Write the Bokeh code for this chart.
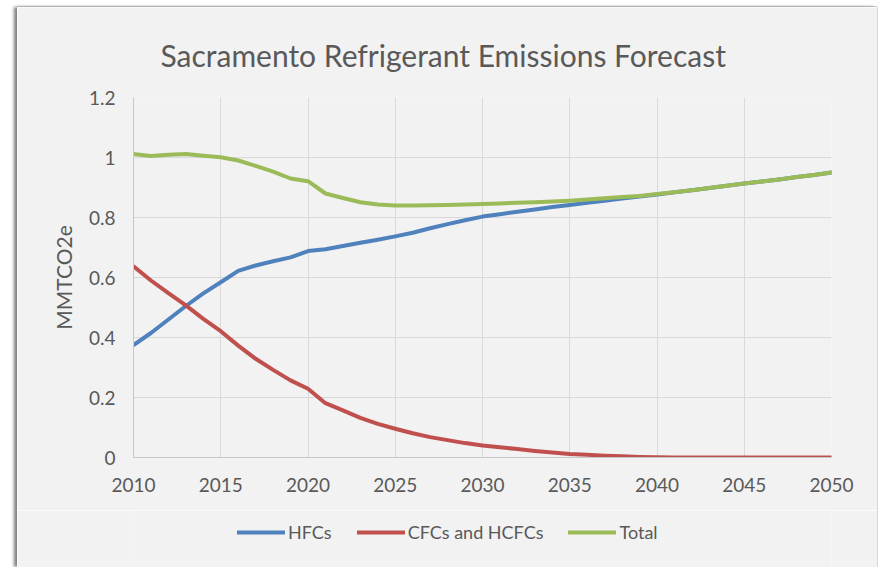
from bokeh.plotting import figure
from bokeh.models import (Legend, LegendItem, FixedTicker, CustomJSTickFormatter, Range1d, Spacer)
from bokeh.layouts import row, column
from bokeh.embed import file_html
from bokeh.resources import INLINE

# ---- data ----
years = [2010, 2011, 2012, 2013, 2014, 2015, 2016, 2017, 2018, 2019,
         2020, 2021, 2022, 2023, 2024, 2025, 2026, 2027, 2028, 2029,
         2030, 2031, 2032, 2033, 2034, 2035, 2036, 2037, 2038, 2039,
         2040, 2041, 2042, 2043, 2044, 2045, 2046, 2047, 2048, 2049, 2050]
hfcs = [0.375, 0.415, 0.460, 0.505, 0.547, 0.584, 0.622, 0.640, 0.654, 0.667,
        0.688, 0.694, 0.705, 0.716, 0.726, 0.737, 0.749, 0.764, 0.778, 0.791,
        0.803, 0.811, 0.819, 0.827, 0.835, 0.842, 0.849, 0.856, 0.863, 0.870,
        0.877, 0.884, 0.891, 0.898, 0.906, 0.913, 0.920, 0.927, 0.935, 0.942, 0.950]
cfcs = [0.637, 0.590, 0.548, 0.507, 0.462, 0.421, 0.373, 0.329, 0.292, 0.257,
        0.229, 0.181, 0.157, 0.132, 0.112, 0.096, 0.081, 0.068, 0.058, 0.048,
        0.040, 0.034, 0.028, 0.022, 0.017, 0.012, 0.009, 0.006, 0.004, 0.002,
        0.001, 0.0, 0.0, 0.0, 0.0, 0.0, 0.0, 0.0, 0.0, 0.0, 0.0]
total = [1.012, 1.005, 1.009, 1.012, 1.006, 1.001, 0.990, 0.972, 0.953, 0.930,
         0.921, 0.880, 0.865, 0.851, 0.843, 0.840, 0.840, 0.841, 0.842, 0.843,
         0.845, 0.847, 0.849, 0.851, 0.853, 0.856, 0.860, 0.864, 0.868, 0.872,
         0.878, 0.884, 0.891, 0.898, 0.906, 0.913, 0.920, 0.927, 0.935, 0.942, 0.950]
x_ticks = [2010, 2015, 2020, 2025, 2030, 2035, 2040, 2045, 2050]
y_ticks = [0, 0.2, 0.4, 0.6, 0.8, 1.0, 1.2]
series_names = ["HFCs", "CFCs and HCFCs", "Total"]
title_text = "Sacramento Refrigerant Emissions Forecast"
y_label = "MMTCO2e"

FONT = "Lato"
TXT = "#595959"
BG = "#f2f2f2"
GRID = "#d9d9d9"
colors = ["#4f81bd", "#c0504d", "#9bbb59"]
series = [hfcs, cfcs, total]

# ---- main chart ----
p = figure(width=860, height=503, output_backend="svg", toolbar_location=None,
           x_range=Range1d(2010, 2050), y_range=Range1d(0, 1.2),
           min_border_left=116, min_border_right=46, min_border_top=90, min_border_bottom=53,
           title=title_text)
p.background_fill_color = BG
p.border_fill_color = BG
p.outline_line_color = None

p.title.text_font = FONT
p.title.text_font_size = "30px"
p.title.text_font_style = "normal"
p.title.text_color = TXT
p.title.align = "left"
p.title.offset = 27
p.title.standoff = 50

p.xgrid.grid_line_color = GRID
p.ygrid.grid_line_color = GRID
p.xgrid.ticker = FixedTicker(ticks=x_ticks)
p.ygrid.ticker = FixedTicker(ticks=y_ticks)

p.xaxis.ticker = FixedTicker(ticks=x_ticks)
p.yaxis.ticker = FixedTicker(ticks=y_ticks)
p.yaxis.formatter = CustomJSTickFormatter(code="return tick.toFixed(1).replace(/\\.0$/, '');")
for ax in (p.xaxis, p.yaxis):
    ax.axis_line_color = "#c8c8c8"
    ax.major_tick_line_color = None
    ax.minor_tick_line_color = None
    ax.major_tick_out = 0
    ax.major_label_text_font = FONT
    ax.major_label_text_font_size = "19px"
    ax.major_label_text_color = TXT
p.xaxis.major_label_standoff = 20
p.yaxis.major_label_standoff = 18
p.yaxis.axis_label = y_label
p.yaxis.axis_label_text_font = FONT
p.yaxis.axis_label_text_font_size = "21px"
p.yaxis.axis_label_text_font_style = "normal"
p.yaxis.axis_label_text_color = TXT
p.yaxis.axis_label_standoff = 10

for ys, c in zip(series, colors):
    p.line(years, ys, line_color=c, line_width=4, line_join="round", line_cap="round")

# ---- legend strip (same series, drawn out of view; only the legend shows) ----
lg = figure(width=860, height=57, output_backend="svg", toolbar_location=None,
            x_range=Range1d(0, 1), y_range=Range1d(0, 1), x_axis_type=None, y_axis_type=None,
            min_border=0)
lg.background_fill_color = BG
lg.border_fill_color = BG
lg.outline_line_color = None
lg.grid.visible = False
lrs = [lg.line(years, ys, line_color=c, line_width=4, line_cap="round") for ys, c in zip(series, colors)]
legend = Legend(items=[LegendItem(label=n, renderers=[r]) for n, r in zip(series_names, lrs)],
                orientation="horizontal", location=(104, 24),
                glyph_width=48, glyph_height=20, label_height=20, label_standoff=3,
                spacing=25, padding=0, margin=0,
                background_fill_alpha=0, border_line_color=None,
                label_text_font=FONT, label_text_font_size="18px", label_text_color=TXT)
lg.add_layout(legend, "center")

chart = column(p, lg, styles={"box-shadow": "-3px 0px 3px #7f7f7f, 0px -1px 0px #cfcfcf, 1px 0px 0px #d9d9d9"})
layout = column(Spacer(height=7), row(Spacer(width=17), chart))
open("out.html", "w").write(file_html(layout, INLINE))
